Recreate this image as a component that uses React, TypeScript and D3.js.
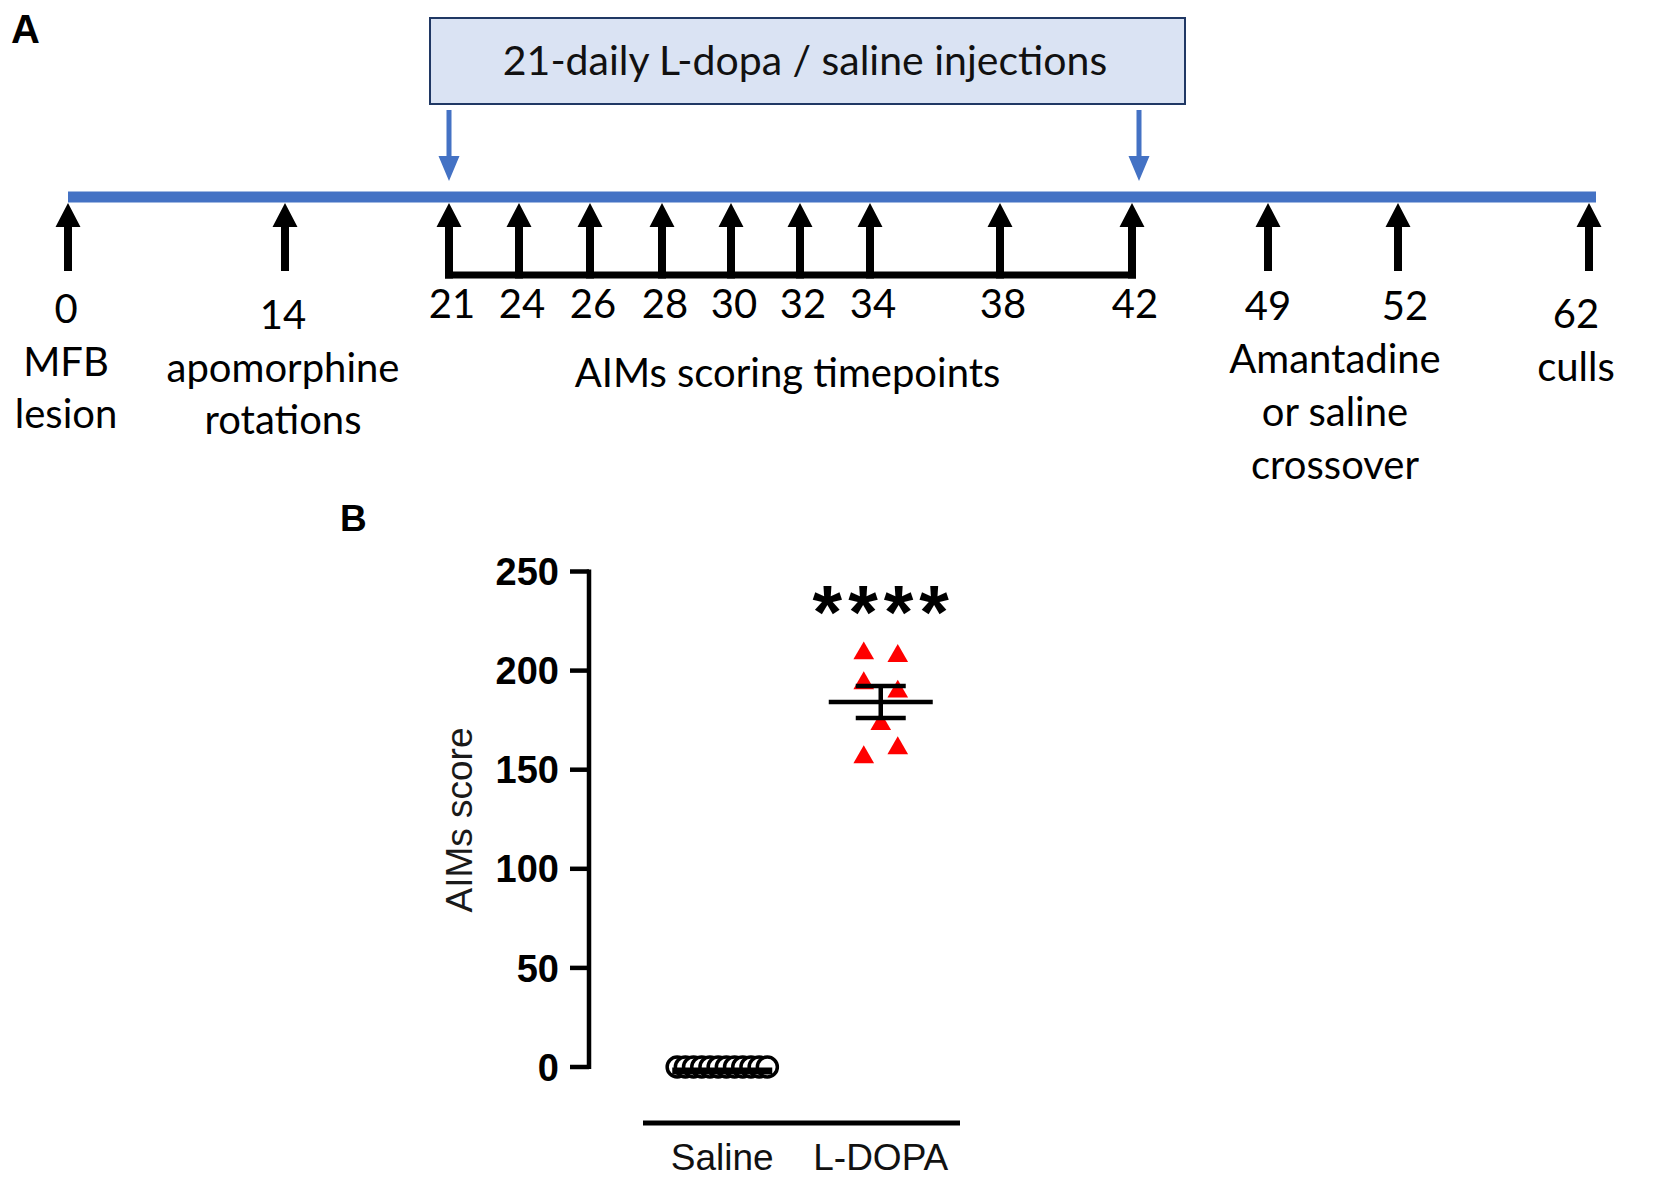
import React from "react";
import * as d3 from "d3";

// ---------- Panel A data ----------
const timelineDays = [0, 14, 21, 24, 26, 28, 30, 32, 34, 38, 42, 49, 52, 62];
const aimsDays = [21, 24, 26, 28, 30, 32, 34, 38, 42];
const injectionDays = [21, 42];
const injectionLabel = "21-daily L-dopa / saline injections";
const aimsLabel = "AIMs scoring timepoints";
const eventLabels = [
  { day: 0, lines: ["MFB", "lesion"] },
  { day: 14, lines: ["apomorphine", "rotations"] },
  { day: 62, lines: ["culls"] },
];
const crossoverDays = [49, 52];
const crossoverLines = ["Amantadine", "or saline", "crossover"];

// ---------- Panel B data ----------
const groups = ["Saline", "L-DOPA"];
const salineScores = [0, 0, 0, 0, 0, 0, 0, 0, 0, 0, 0, 0];
const ldopaScores = [208.7, 207.4, 193.6, 189.4, 173.0, 156.3, 160.8];
const yTicks = [0, 50, 100, 150, 200, 250];
const yLabel = "AIMs score";
const significance = "****";

// ---------- layout ----------
const W = 1675;
const H = 1180;
const timelinePx = [68, 285, 449, 519, 590, 662, 731, 800, 870, 1000, 1132, 1268, 1398, 1589];
const ldopaSlots = [-1, 1, -1, 1, 0, -1, 1];

const xDay = d3.scaleLinear().domain(timelineDays).range(timelinePx);
const yScale = d3.scaleLinear().domain([0, 250]).range([1067, 571.5]);
const xGroup = d3.scalePoint().domain(groups).range([643, 960]).padding(0.5);

const LINE_Y = 197;
const BLUE = "#4472c4";
const CAL = "Lato, 'Open Sans', sans-serif";
const ARIAL = "'Liberation Sans', Arial, sans-serif";

function upArrow(x: number, tip: number, bottom: number, sw: number, hw: number, hh: number) {
  const p = d3.path();
  p.moveTo(x, tip);
  p.lineTo(x + hw / 2, tip + hh);
  p.lineTo(x + sw / 2, tip + hh);
  p.lineTo(x + sw / 2, bottom);
  p.lineTo(x - sw / 2, bottom);
  p.lineTo(x - sw / 2, tip + hh);
  p.lineTo(x - hw / 2, tip + hh);
  p.closePath();
  return p.toString();
}

function downArrow(x: number, top: number, tip: number, sw: number, hw: number, hh: number) {
  const p = d3.path();
  p.moveTo(x - sw / 2, top);
  p.lineTo(x + sw / 2, top);
  p.lineTo(x + sw / 2, tip - hh);
  p.lineTo(x + hw / 2, tip - hh);
  p.lineTo(x, tip);
  p.lineTo(x - hw / 2, tip - hh);
  p.lineTo(x - sw / 2, tip - hh);
  p.closePath();
  return p.toString();
}

export default function App() {
  const labelSize = 40;
  const aimsSet = new Set(aimsDays);
  const bracketY = 275;

  const mean = d3.mean(ldopaScores) as number;
  const sd = d3.deviation(ldopaScores) as number;
  const sem = sd / Math.sqrt(ldopaScores.length);
  const cxL = xGroup("L-DOPA") as number;
  const cxS = xGroup("Saline") as number;
  const tri = d3.symbol(d3.symbolTriangle, 185)() as string;
  const salMean = d3.mean(salineScores) as number;

  return (
    <svg width={W} height={H} style={{ position: "absolute", left: 0, top: 0, background: "#fff" }}>
      {/* ===== Panel A ===== */}
      <text x={11} y={43} fontFamily={ARIAL} fontWeight="bold" fontSize={40}>A</text>

      <rect x={430} y={18} width={755} height={86} fill="#dae3f3" stroke="#203864" strokeWidth={2} />
      <text x={805} y={75} textAnchor="middle" fontFamily={CAL} fontSize={41} fill="#111">{injectionLabel}</text>

      {injectionDays.map((d) => (
        <path key={"inj" + d} d={downArrow(xDay(d) + (d === 42 ? 7 : 0), 110, 181, 5, 21, 25)} fill={BLUE} />
      ))}

      <line x1={68} x2={1596} y1={LINE_Y} y2={LINE_Y} stroke={BLUE} strokeWidth={11} />

      {timelineDays.map((d) => (
        <path
          key={"ar" + d}
          d={upArrow(xDay(d), 203, aimsSet.has(d) ? bracketY + 3.5 : 271, 8, 25, 24)}
          fill="#000"
        />
      ))}
      <line
        x1={xDay(aimsDays[0]) - 4}
        x2={xDay(aimsDays[aimsDays.length - 1]) + 4}
        y1={bracketY}
        y2={bracketY}
        stroke="#000"
        strokeWidth={7}
      />

      {aimsDays.map((d) => (
        <text key={"al" + d} x={xDay(d) + 3} y={318} textAnchor="middle" fontFamily={CAL} fontSize={labelSize}>{d}</text>
      ))}
      <text x={(xDay(21) + xDay(42)) / 2 - 3} y={387} textAnchor="middle" fontFamily={CAL} fontSize={labelSize}>{aimsLabel}</text>

      {eventLabels.map((ev) => {
        const base = ev.day === 0 ? 323 : ev.day === 14 ? 329 : 328;
        const xx = xDay(ev.day) + (ev.day === 62 ? -13 : -2);
        return (
          <g key={"ev" + ev.day}>
            <text x={xx} y={base} textAnchor="middle" fontFamily={CAL} fontSize={labelSize}>{ev.day}</text>
            {ev.lines.map((ln, i) => (
              <text key={i} x={xx} y={base + 53 + i * 52} textAnchor="middle" fontFamily={CAL} fontSize={labelSize}>{ln}</text>
            ))}
          </g>
        );
      })}

      {crossoverDays.map((d) => (
        <text key={"cd" + d} x={xDay(d) + (d === 52 ? 7 : 0)} y={320} textAnchor="middle" fontFamily={CAL} fontSize={labelSize}>{d}</text>
      ))}
      {crossoverLines.map((ln, i) => (
        <text key={"cl" + i} x={(xDay(49) + xDay(52)) / 2 + 2} y={373 + i * 53} textAnchor="middle" fontFamily={CAL} fontSize={labelSize}>{ln}</text>
      ))}

      {/* ===== Panel B ===== */}
      <text x={340} y={531} fontFamily={ARIAL} fontWeight="bold" fontSize={37}>B</text>

      <line x1={589} x2={589} y1={yScale(250) - 2} y2={yScale(0) + 2} stroke="#000" strokeWidth={4.5} />
      {yTicks.map((t) => (
        <g key={"yt" + t}>
          <line x1={570} x2={589} y1={yScale(t)} y2={yScale(t)} stroke="#000" strokeWidth={4.5} />
          <text x={559} y={yScale(t)} dy="0.36em" textAnchor="end" fontFamily={ARIAL} fontWeight="bold" fontSize={38}>{t}</text>
        </g>
      ))}
      <text
        transform={`translate(459, 820) rotate(-90)`}
        textAnchor="middle"
        dy="0.36em"
        fontFamily={ARIAL}
        fontSize={37}
        fill="#1a1a1a"
      >
        {yLabel}
      </text>

      {/* Saline points */}
      {salineScores.map((v, i) => (
        <circle
          key={"s" + i}
          cx={cxS + (i - (salineScores.length - 1) / 2) * 8.2}
          cy={yScale(v)}
          r={10}
          fill="#fff"
          stroke="#000"
          strokeWidth={3.5}
        />
      ))}
      <line x1={cxS - 50} x2={cxS + 50} y1={yScale(salMean) + 4} y2={yScale(salMean) + 4} stroke="#000" strokeWidth={7} />

      {/* L-DOPA points */}
      {ldopaScores.map((v, i) => (
        <path key={"l" + i} d={tri} transform={`translate(${cxL + ldopaSlots[i] * 17}, ${yScale(v)})`} fill="#ff0000" />
      ))}
      <g stroke="#000" strokeWidth={4.5}>
        <line x1={cxL - 52} x2={cxL + 52} y1={yScale(mean)} y2={yScale(mean)} />
        <line x1={cxL} x2={cxL} y1={yScale(mean + sem)} y2={yScale(mean - sem)} />
        <line x1={cxL - 25} x2={cxL + 25} y1={yScale(mean + sem)} y2={yScale(mean + sem)} />
        <line x1={cxL - 25} x2={cxL + 25} y1={yScale(mean - sem)} y2={yScale(mean - sem)} />
      </g>
      <text x={cxL + 3} y={638} textAnchor="middle" fontFamily={ARIAL} fontWeight="bold" fontSize={76} letterSpacing={6}>{significance}</text>

      {/* group bar and labels */}
      <line x1={643} x2={960} y1={1123} y2={1123} stroke="#000" strokeWidth={5} />
      {groups.map((g) => (
        <text key={"g" + g} x={xGroup(g) as number} y={1170} textAnchor="middle" fontFamily={ARIAL} fontSize={37} fill="#111">{g}</text>
      ))}
    </svg>
  );
}
